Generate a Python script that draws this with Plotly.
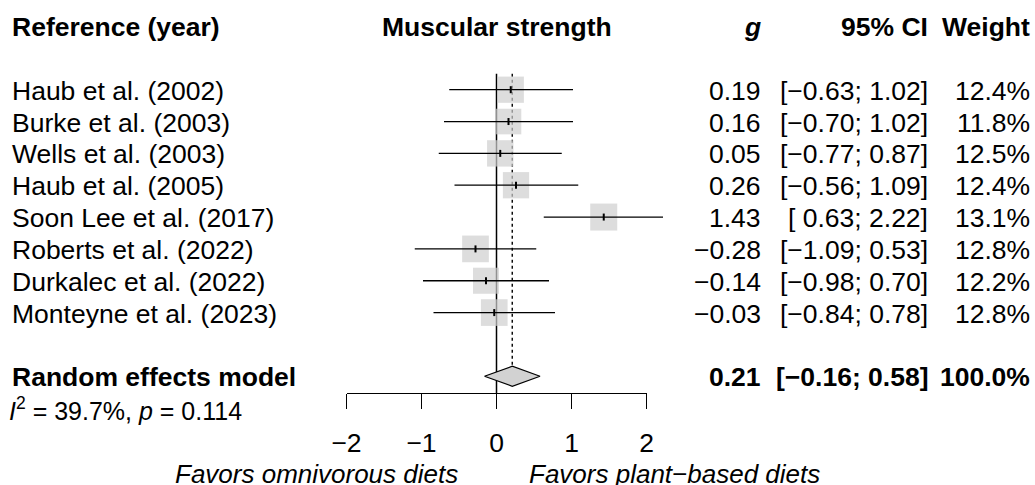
import plotly.graph_objects as go

# ---------------- data ----------------
studies = ["Haub et al. (2002)", "Burke et al. (2003)", "Wells et al. (2003)",
           "Haub et al. (2005)", "Soon Lee et al. (2017)", "Roberts et al. (2022)",
           "Durkalec et al. (2022)", "Monteyne et al. (2023)"]
g_vals = [0.19, 0.16, 0.05, 0.26, 1.43, -0.28, -0.14, -0.03]
ci_low = [-0.63, -0.70, -0.77, -0.56, 0.63, -1.09, -0.98, -0.84]
ci_up = [1.02, 1.02, 0.87, 1.09, 2.22, 0.53, 0.70, 0.78]
weights = [12.4, 11.8, 12.5, 12.4, 13.1, 12.8, 12.2, 12.8]
pooled_label = "Random effects model"
pooled_g = 0.21
pooled_low = -0.16
pooled_up = 0.58
pooled_weight = 100.0
i2_value = 39.7
p_value = 0.114
tick_vals = [-2, -1, 0, 1, 2]
label_left = "Favors omnivorous diets"
label_right = "Favors plant\u2212based diets"
col_headers = ["Reference (year)", "Muscular strength", "g", "95% CI", "Weight"]

# ---------------- geometry (pixels) ----------------
W, H = 1035, 485
X0_PX = 496.5          # pixel of effect 0
PX_PER_UNIT = 75.0     # pixels per effect unit
ROW0_PX = 89.7         # pixel of first study row
ROW_PX = 31.84         # row spacing
FONT = "Liberation Sans, Arial, Helvetica, sans-serif"
FS = 26.5

n = len(studies)
rows = list(range(n))
header_row = -2
pooled_row = n + 1
het_row = n + 2
axis_px = 393.3
axis_row = (axis_px - ROW0_PX) / ROW_PX
diamond_half = 10.0 / ROW_PX

x_range = [-X0_PX / PX_PER_UNIT, (W - X0_PX) / PX_PER_UNIT]
y_range = [(H - ROW0_PX) / ROW_PX, -ROW0_PX / ROW_PX]

def xp(px):
    return px / W

def mfmt(v, pad=False):
    s = f"{abs(v):.2f}"
    if v < 0:
        return "\u2212" + s
    return (" " + s) if pad else s

def tfmt(v):
    return ("\u2212" + str(abs(v))) if v < 0 else str(v)

pad_low = any(v < 0 for v in ci_low)
pad_up = any(v < 0 for v in ci_up)

fig = go.Figure()

# reference line at 0 and dotted line at pooled estimate
fig.add_trace(go.Scatter(x=[0, 0], y=[-0.5, axis_row], mode="lines",
                         line=dict(color="black", width=1.5), hoverinfo="skip"))
fig.add_trace(go.Scatter(x=[pooled_g, pooled_g], y=[-0.5, pooled_row - diamond_half],
                         mode="lines", line=dict(color="black", width=1.4, dash="dot"),
                         hoverinfo="skip"))

# squares sized by weight
max_w = max(weights)
sizes = [27.0 * (w / max_w) ** 0.5 for w in weights]
fig.add_trace(go.Scatter(x=g_vals, y=rows, mode="markers",
                         marker=dict(symbol="square", size=sizes, color="#cfcfcf",
                                     line=dict(width=0)), hoverinfo="skip"))

# CI lines
cx, cy = [], []
for lo, up, r in zip(ci_low, ci_up, rows):
    cx += [lo, up, None]
    cy += [r, r, None]
fig.add_trace(go.Scatter(x=cx, y=cy, mode="lines", line=dict(color="black", width=1.3),
                         hoverinfo="skip"))

# point estimate ticks
fig.add_trace(go.Scatter(x=g_vals, y=rows, mode="markers",
                         marker=dict(symbol="line-ns-open", size=5, color="black",
                                     line=dict(color="black", width=2)),
                         hoverinfo="skip"))

# diamond
fig.add_trace(go.Scatter(
    x=[pooled_low, pooled_g, pooled_up, pooled_g, pooled_low],
    y=[pooled_row, pooled_row - diamond_half, pooled_row, pooled_row + diamond_half, pooled_row],
    mode="lines", fill="toself", fillcolor="#d2d2d2",
    line=dict(color="black", width=1.2), hoverinfo="skip"))

# invisible trace for tick axis
fig.add_trace(go.Scatter(x=tick_vals, y=[None] * len(tick_vals), xaxis="x2", yaxis="y",
                         mode="markers", hoverinfo="skip"))

# ---------------- text ----------------
ann = []
def txt(text, xpx, row, anchor, bold=False, italic=False, size=FS, yshift=0, family=FONT):
    t = text
    if italic:
        t = f"<i>{t}</i>"
    if bold:
        t = f"<b>{t}</b>"
    ann.append(dict(text=t, x=xp(xpx), xref="paper", y=row, yref="y",
                    xanchor=anchor, yanchor="middle", showarrow=False,
                    font=dict(family=family, size=size, color="black"), yshift=yshift))

LEFT_PX = 10
G_PX = 763
CI_PX = 930
W_PX = 1032
YS = -1

txt(col_headers[0], LEFT_PX, header_row, "left", bold=True, yshift=YS)
txt(col_headers[1], X0_PX, header_row, "center", bold=True, yshift=YS)
txt(col_headers[2], G_PX, header_row, "right", bold=True, italic=True, yshift=YS)
txt(col_headers[3], CI_PX, header_row, "right", bold=True, yshift=YS)
txt(col_headers[4], W_PX, header_row, "right", bold=True, yshift=YS)

for s, gv, lo, up, w, r in zip(studies, g_vals, ci_low, ci_up, weights, rows):
    txt(s, LEFT_PX, r, "left", yshift=YS)
    txt(mfmt(gv), G_PX, r, "right", yshift=YS)
    txt(f"[{mfmt(lo, pad_low)}; {mfmt(up, pad_up)}]", CI_PX, r, "right", yshift=YS)
    txt(f"{w:.1f}%", W_PX, r, "right", yshift=YS)

txt(pooled_label, LEFT_PX, pooled_row, "left", bold=True, yshift=YS)
txt(mfmt(pooled_g), G_PX, pooled_row, "right", bold=True, yshift=YS)
txt(f"[{mfmt(pooled_low)}; {mfmt(pooled_up)}]", CI_PX, pooled_row, "right", bold=True, yshift=YS)
txt(f"{pooled_weight:.1f}%", W_PX, pooled_row, "right", bold=True, yshift=YS)
txt(f"<i>I</i><sup>2</sup> = {i2_value:.1f}%, <i>p</i> = {p_value:.3f}", 7, het_row,
    "left", size=25, yshift=YS)

fav_row = (474 - ROW0_PX) / ROW_PX
txt(label_left, 460, fav_row, "right", italic=True, size=26)
txt(label_right, 527, fav_row, "left", italic=True, size=26)

fig.update_layout(
    width=W, height=H, margin=dict(l=0, r=0, t=0, b=0, autoexpand=False),
    paper_bgcolor="white", plot_bgcolor="rgba(0,0,0,0)", showlegend=False,
    xaxis=dict(domain=[0, 1], range=x_range, visible=False),
    yaxis=dict(domain=[0, 1], range=y_range, visible=False),
    xaxis2=dict(domain=[xp(X0_PX - 2 * PX_PER_UNIT), xp(X0_PX + 2 * PX_PER_UNIT)],
                range=[min(tick_vals), max(tick_vals)], anchor="free",
                position=1 - axis_px / H, showline=True, linecolor="black", linewidth=1.3,
                ticks="outside", ticklen=15, tickwidth=1.3, tickcolor="black",
                tickvals=tick_vals, ticktext=[tfmt(t) for t in tick_vals],
                ticklabelstandoff=11,
                tickfont=dict(family=FONT, size=FS, color="black"),
                showgrid=False, zeroline=False, fixedrange=True),
    annotations=ann,
)

fig.write_html("out.html", config={"displayModeBar": False},
               post_script="document.body.style.margin='0';document.body.style.padding='0';")
